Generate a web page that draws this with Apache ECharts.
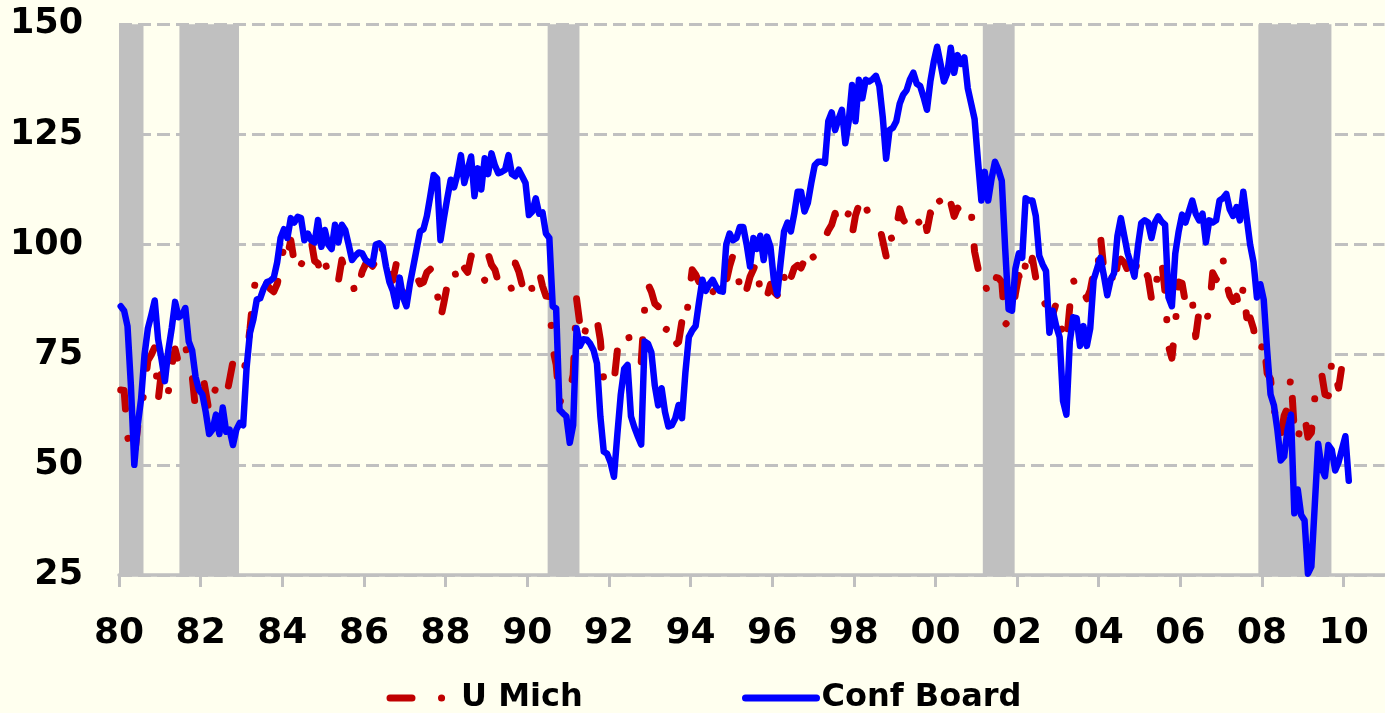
<!DOCTYPE html>
<html>
<head>
<meta charset="utf-8">
<script src="https://cdn.jsdelivr.net/npm/echarts@6/dist/echarts.min.js"></script>
<style>
html,body{margin:0;padding:0;background:#FFFFEF;}
#c{width:1385px;height:713px;}
</style>
</head>
<body>
<div id="c"></div>
<script>
// Monthly data, Jan 1980 .. Feb 2010
const startYear = 1980;
const uMich = [
67.0,66.9,56.5,52.7,51.7,58.7,62.3,67.3,73.7,75.0,76.7,64.5,
71.4,66.9,66.5,72.4,76.3,73.1,74.1,77.2,73.1,70.3,62.5,64.3,
71.0,66.5,62.0,65.5,67.5,65.7,65.4,65.4,69.3,73.4,72.1,71.9,
70.4,74.6,80.8,89.1,93.3,92.2,92.8,90.9,89.9,89.3,91.1,94.2,
100.1,97.4,101.0,96.1,98.1,95.5,96.6,99.1,100.9,96.3,95.7,92.9,
96.0,93.7,93.7,94.6,91.8,96.5,94.0,92.4,92.1,88.4,90.9,93.9,
95.6,95.9,95.1,96.2,94.8,99.3,97.7,94.9,91.9,95.6,91.4,89.1,
90.4,90.2,90.8,92.8,91.1,91.5,93.7,94.4,93.6,89.3,83.1,86.8,
90.8,91.6,94.6,91.2,94.8,94.7,93.7,97.4,97.3,94.1,93.0,91.9,
97.9,95.4,94.3,91.5,90.7,90.6,92.0,89.6,95.8,93.9,90.9,90.5,
93.0,89.5,91.3,93.9,90.6,88.3,88.2,76.4,72.8,63.9,66.0,65.5,
66.8,70.4,87.7,81.8,78.3,82.1,82.9,82.0,83.0,78.3,69.1,68.2,
67.5,68.8,76.0,77.2,79.2,80.4,76.6,76.1,75.6,73.3,85.3,91.0,
89.3,86.6,85.9,85.6,80.3,81.5,77.0,77.3,77.9,82.7,81.2,88.2,
94.3,93.2,91.5,92.6,92.8,91.2,89.0,91.7,91.5,92.7,91.6,95.1,
97.6,95.1,90.3,92.5,89.8,92.7,94.4,96.2,88.9,90.2,88.2,91.0,
89.3,88.5,93.7,92.7,89.4,92.4,94.7,95.3,94.7,96.5,99.2,96.9,
97.4,99.7,100.0,101.4,103.2,104.5,107.1,104.4,106.0,105.6,107.2,102.1,
106.6,109.0,106.5,108.7,106.5,105.6,105.2,104.4,100.9,97.4,102.7,100.5,
103.9,108.1,105.7,104.6,106.8,107.3,106.0,104.5,107.2,103.2,107.2,105.4,
109.5,110.0,107.1,109.2,109.5,106.4,108.3,107.3,106.8,105.8,107.6,98.4,
94.7,90.6,91.5,88.4,92.0,92.6,92.4,91.5,81.8,82.7,83.9,88.8,
93.0,90.7,95.7,93.0,96.9,92.4,88.1,87.6,86.1,80.6,84.2,86.7,
82.4,79.9,77.6,86.0,92.1,89.7,90.9,89.3,87.7,89.6,93.7,92.6,
102.0,94.4,95.8,94.2,90.2,95.6,96.7,95.9,94.2,91.7,92.8,97.1,
95.5,94.1,92.6,87.7,86.9,96.0,96.5,89.1,76.9,74.2,81.6,91.5,
91.2,86.7,88.9,87.4,79.1,84.9,84.7,82.0,85.4,93.6,92.1,91.7,
96.9,91.3,88.4,87.1,88.3,85.3,90.4,83.4,83.4,80.9,76.1,75.5,
78.4,70.8,69.5,62.6,59.8,56.4,61.2,63.0,70.3,57.6,55.3,60.1,
61.2,56.3,57.3,65.1,68.7,70.8,66.0,65.7,73.5,70.6,67.4,72.5,
74.4,73.6
];
const confBoard = [
86,85,81.5,68,50,59,65,75,81,84,87.3,78.5,
74,69,76,81,87,83.5,84,85.6,78,76,70,67,
66,62,57,58,61.4,57,63,57.5,58,54.5,58,59.5,
59,72,80,83,87.5,87.8,90,91.5,91.8,92.5,96,101.5,
103.5,101.5,106,105,106.3,106,101,102.5,101,100.5,105.6,99.5,
103.3,100,99,104.5,100.5,104.5,103.3,100,96.5,97.5,98.2,98,
96.5,96,95.5,100,100.3,99.5,95,91.5,89.5,86,92.5,88,
86,91,95,99,103,103.5,106.5,111,115.8,115,101,106,
110.5,114.7,113,116,120.3,114,117,120,111,117.3,112.5,119.6,
116,120.7,118,116.2,116.5,117,120.3,116,115.5,117,115.5,114,
106.7,107.5,110.5,107,107.3,102.5,101.5,86,85.5,62.5,61.7,61,
55,59,81,77,78.5,78.4,77.5,76,73,61,53,52.5,
50.5,47.3,57,66,71.8,72.7,61,58.5,56.5,54.6,78,77.5,
75.5,68,63.5,67.4,62,58.7,59,60.5,63.6,60.6,71,79,
80.5,81.5,87,92,89.5,91,92,90.5,89.5,89.3,100,102.5,
101,101.5,104,104,100,95,101.5,99,102,96.5,101.8,99.5,
92,88.7,96,103,105,103,107,112,112,107.5,109.5,114,
118,118.8,118.8,118.5,128,130,126,128.5,130.6,123,128,136.2,
128,137.4,133.2,137.4,137,137.5,138.3,136,129,119.5,126,126.5,
128,132,134,135,137.5,139,136.5,136,133.5,130.6,137,141.5,
144.9,141,137,139,144.7,139,143,141,142.5,135.5,132,128.5,
119,110,116.5,110,115,118.8,117,114.5,99,85.3,85,94.5,
98,97,110.5,110,110,106.5,97.5,95.5,94,80,85,81.5,
79,64.5,61.4,78,83.5,83.3,77,81.5,77,81,92,94.5,
97,93,88.5,92,93.5,102,106,102,98,95.5,92.7,99.5,
104.9,105.5,105,101.5,105,106.4,105.2,104.5,88,86,98,103,
106.8,105,107.5,110,107,105.5,107,100.5,105.5,105,105.5,110,
110.5,111.5,108,106.5,108.5,105.5,112,106,100,96,88,91,
87.5,76,66,63.5,58,51,51.9,58,61.4,39,44.4,38.6,
37.4,25.3,26.9,40.8,54.8,49.3,47.4,54.5,53.4,48.7,50.6,53.6,
56.5,46.4
];
// Recession periods (decimal years)
const recessions = [[1980.0,1980.6],[1981.48,1982.94],[1990.5,1991.28],[2001.16,2001.94],[2007.91,2009.7]];
const xTickYears = [1980,1982,1984,1986,1988,1990,1992,1994,1996,1998,2000,2002,2004,2006,2008,2010];
const yTicks = [25,50,75,100,125,150];
const seriesNames = ['U Mich','Conf Board'];

const toPoints = arr => arr.map((v,i)=>[startYear + (i+0.5)/12, v]);
const FONT = 'DejaVu Sans';
const GRAY = '#C0C0C0';
const UM_DASH = [22,29.5,0.1,29.5];

const chart = echarts.init(document.getElementById('c'), null, {renderer:'canvas'});
chart.setOption({
  backgroundColor:'#FFFFEF',
  animation:false,
  grid:{left:119, right:0.5, top:24.3, bottom:138, containLabel:false},
  xAxis:{
    type:'value', min:1980, max:2011,
    axisLine:{show:true, lineStyle:{color:GRAY, width:3.5}},
    axisTick:{show:true, customValues:xTickYears, length:12, lineStyle:{color:GRAY, width:3}},
    axisLabel:{customValues:xTickYears, margin:41, fontFamily:FONT, fontWeight:'bold', fontSize:36, color:'#000',
      formatter:v=>String(Math.round(v)%100).padStart(2,'0')},
    splitLine:{show:false}
  },
  yAxis:{
    type:'value', min:yTicks[0], max:yTicks[yTicks.length-1], interval:25,
    axisLine:{show:false}, axisTick:{show:false},
    axisLabel:{margin:36, fontFamily:FONT, fontWeight:'bold', fontSize:35, color:'#000'},
    splitLine:{show:true, lineStyle:{color:GRAY, width:3, type:[13,6]}}
  },
  legend:[
    {data:[seriesNames[0]], left:386.5, top:682, padding:0, itemWidth:66, itemHeight:14,
     itemStyle:{opacity:0},
     lineStyle:{width:7, type:UM_DASH, cap:'round', color:'#C00000'},
     textStyle:{fontFamily:FONT, fontWeight:'bold', fontSize:32, color:'#000', lineHeight:32}},
    {data:[seriesNames[1]], left:742, top:682, padding:0, itemWidth:71, itemHeight:14,
     itemStyle:{opacity:0},
     lineStyle:{width:7, type:'solid', cap:'round', color:'#0000FF'},
     textStyle:{fontFamily:FONT, fontWeight:'bold', fontSize:32, color:'#000', lineHeight:32}}
  ],
  series:[
    {name:seriesNames[0], type:'line', data:toPoints(uMich), symbol:'none', z:3,
     lineStyle:{color:'#C00000', width:7, type:UM_DASH, cap:'round', join:'round'},
     itemStyle:{color:'#C00000'}},
    {name:seriesNames[1], type:'line', data:toPoints(confBoard), symbol:'none', z:4,
     lineStyle:{color:'#0000FF', width:6.5, cap:'round', join:'round'},
     itemStyle:{color:'#0000FF'},
     markArea:{silent:true, z:1, itemStyle:{color:GRAY}, label:{show:false},
       data:recessions.map(r=>[{xAxis:r[0]},{xAxis:r[1]}])}}
  ]
});
</script>
</body>
</html>
